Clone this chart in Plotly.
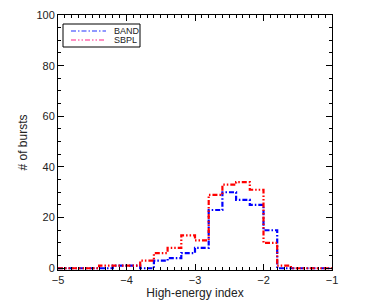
import plotly.graph_objects as go

bin_edges = [-5.0, -4.8, -4.6, -4.4, -4.2, -4.0, -3.8, -3.6, -3.4, -3.2, -3.0,
             -2.8, -2.6, -2.4, -2.2, -2.0, -1.8, -1.6, -1.4, -1.2, -1.0]
band_counts = [0, 0, 0, 0, 1, 1, 0, 3, 4, 6, 8, 23, 30, 27, 25, 15, 0, 0, 0, 0]
sbpl_counts = [0, 0, 0, 1, 1, 1, 3, 6, 8, 13, 11, 29, 33, 34, 31, 10, 1, 0, 0, 0]
series_names = ["BAND", "SBPL"]

FONT = "Liberation Sans, Arial, Helvetica, sans-serif"
band_dash = "5px,2px,1.5px,2px"
sbpl_dash = "5px,2px,1.5px,2px,1.5px,2px"

fig = go.Figure()
fig.add_trace(go.Scatter(
    x=bin_edges, y=band_counts + [band_counts[-1]], mode="lines", line_shape="hv",
    name=series_names[0], showlegend=False,
    line=dict(color="#0000ff", width=2.2, dash=band_dash)))
fig.add_trace(go.Scatter(
    x=bin_edges, y=sbpl_counts + [sbpl_counts[-1]], mode="lines", line_shape="hv",
    name=series_names[1], showlegend=False,
    line=dict(color="#ff0000", width=2.2, dash=sbpl_dash)))

axis_common = dict(
    showline=True, linecolor="black", linewidth=1, mirror="allticks",
    ticks="inside", ticklen=6, tickcolor="black", showgrid=False, zeroline=False,
    automargin=False,
    tickfont=dict(family=FONT, size=11, color="#222222"),
)

fig.update_xaxes(
    range=[-5, -1], dtick=1, tick0=-5,
    minor=dict(dtick=0.1, ticks="inside", ticklen=3, tickcolor="black", showgrid=False),
    title=dict(text="High-energy index", standoff=3,
               font=dict(family=FONT, size=12, color="#222222")),
    **axis_common)
fig.update_yaxes(
    range=[-0.7, 100], dtick=20, tick0=0,
    minor=dict(dtick=5, ticks="inside", ticklen=3, tickcolor="black", showgrid=False),
    title=dict(text="# of bursts", standoff=6,
               font=dict(family=FONT, size=12, color="#222222")),
    **axis_common)

# page offset of the plot div (default body margin)
OFF = 8
# plot area in page pixels
L, T, W, H = 58, 15, 274, 255

def px(x):
    return (x - L) / W
def py(y):
    return (T + H - y) / H

shapes = [
    dict(type="rect", xref="paper", yref="paper", x0=px(63), x1=px(140), y0=py(47), y1=py(24),
         line=dict(color="black", width=1), fillcolor="white", layer="above"),
    dict(type="line", xref="paper", yref="paper", x0=px(71), x1=px(106), y0=py(31), y1=py(31),
         line=dict(color="#2233ff", width=1.2, dash=band_dash), layer="above"),
    dict(type="line", xref="paper", yref="paper", x0=px(71), x1=px(106), y0=py(40), y1=py(40),
         line=dict(color="#ff2288", width=1.2, dash=sbpl_dash), layer="above"),
]
annotations = [
    dict(text=series_names[0], xref="paper", yref="paper", x=px(112), y=py(31),
         xanchor="left", yanchor="middle", showarrow=False,
         font=dict(family=FONT, size=9, color="#222222")),
    dict(text=series_names[1], xref="paper", yref="paper", x=px(112), y=py(40),
         xanchor="left", yanchor="middle", showarrow=False,
         font=dict(family=FONT, size=9, color="#222222")),
]

fig_w, fig_h = 369 - OFF, 301 - OFF
fig.update_layout(
    width=fig_w, height=fig_h,
    margin=dict(l=L - OFF, r=fig_w - (L - OFF) - W, t=T - OFF, b=fig_h - (T - OFF) - H),
    plot_bgcolor="white", paper_bgcolor="white",
    showlegend=False,
    shapes=shapes, annotations=annotations,
)

fig.write_html("out.html")
